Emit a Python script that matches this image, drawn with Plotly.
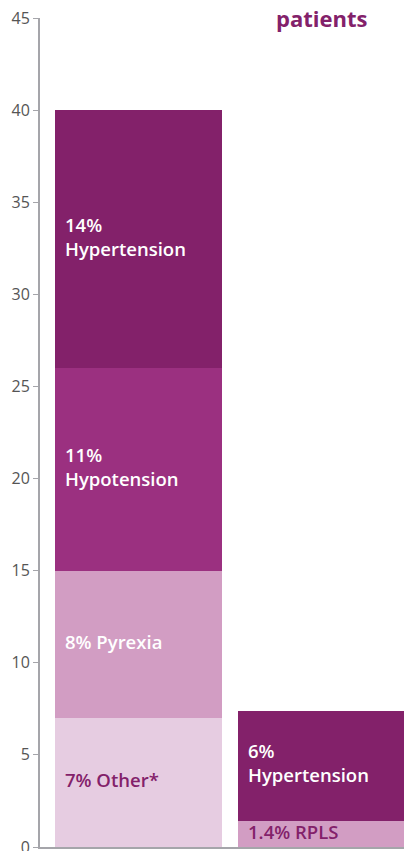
import plotly.graph_objects as go

# Data
bars = ["Treated", "Placebo"]
left_labels = ["7% Other*", "8% Pyrexia", "11%<br>Hypotension", "14%<br>Hypertension"]
left_values = [7, 8, 11, 14]
left_colors = ["#E6CCE1", "#D29DC3", "#9B3080", "#83216A"]
left_text_colors = ["#83216A", "#FFFFFF", "#FFFFFF", "#FFFFFF"]

right_labels = ["1.4% RPLS", "6%<br>Hypertension"]
right_values = [1.4, 6]
right_colors = ["#D29DC3", "#83216A"]
right_text_colors = ["#83216A", "#FFFFFF"]

y_ticks = [0, 5, 10, 15, 20, 25, 30, 35, 40, 45]
right_title = "patients"

BAR_W = 0.9126

fig = go.Figure()
annotations = []

def add_stack(idx, labels, values, colors, tcolors):
    base = 0
    for lab, v, c, tc in zip(labels, values, colors, tcolors):
        fig.add_trace(go.Bar(x=[idx], y=[v], marker=dict(color=c, line=dict(width=0)),
                             width=BAR_W, showlegend=False, hoverinfo="skip"))
        annotations.append(dict(x=idx - BAR_W / 2, y=base + v / 2, xref="x", yref="y",
                                text=lab, showarrow=False, xanchor="left", yanchor="middle",
                                xshift=8, yshift=3, align="left",
                                font=dict(family="Open Sans", size=18.5, color=tc, weight=600)))
        base += v

add_stack(0, left_labels, left_values, left_colors, left_text_colors)
add_stack(1, right_labels, right_values, right_colors, right_text_colors)

annotations.append(dict(x=1, y=1, xref="x", yref="paper", text=right_title, showarrow=False,
                        xanchor="center", yanchor="bottom", yshift=-17,
                        font=dict(family="Open Sans", size=22, color="#83216A", weight=700)))

fig.update_layout(
    width=412, height=851,
    margin=dict(l=32, r=15, t=10, b=12),
    barmode="stack",
    plot_bgcolor="white", paper_bgcolor="white",
    annotations=annotations,
    xaxis=dict(range=[-0.538, 1.456], showticklabels=False, ticks="", showgrid=False,
               zeroline=False, showline=True, linecolor="#A5A5AA", linewidth=2,
               automargin=False),
    yaxis=dict(range=[0, 45], tickvals=y_ticks, showgrid=False, zeroline=False,
               showline=True, linecolor="#A5A5AA", linewidth=2, ticks="outside",
               ticklen=5, tickcolor="#A5A5AA", tickwidth=1, automargin=False,
               ticklabeloverflow="allow",
               tickfont=dict(family="Open Sans", size=16, color="#555555")),
)

fig.write_html("out.html")
